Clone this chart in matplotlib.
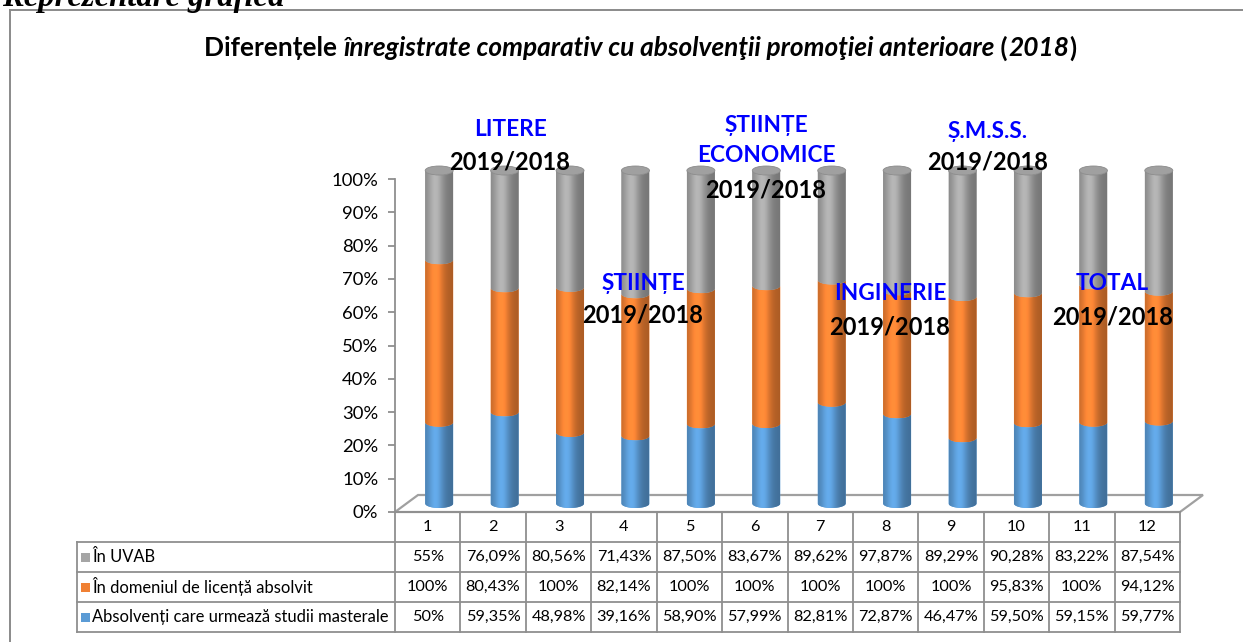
import numpy as np
import matplotlib
matplotlib.use("Agg")
import matplotlib.pyplot as plt
from matplotlib.path import Path
from matplotlib.patches import PathPatch, Ellipse, Polygon, Rectangle
import matplotlib.transforms as mtransforms

# ---------------- data ----------------
columns = ["1", "2", "3", "4", "5", "6", "7", "8", "9", "10", "11", "12"]
series_names = ["În UVAB", "În domeniul de licență absolvit",
                "Absolvenți care urmează studii masterale"]
uvab = [55, 76.09, 80.56, 71.43, 87.50, 83.67, 89.62, 97.87, 89.29, 90.28, 83.22, 87.54]
domeniu = [100, 80.43, 100, 82.14, 100, 100, 100, 100, 100, 95.83, 100, 94.12]
masterale = [50, 59.35, 48.98, 39.16, 58.90, 57.99, 82.81, 72.87, 46.47, 59.50, 59.15, 59.77]
y_ticks = [0, 10, 20, 30, 40, 50, 60, 70, 80, 90, 100]
title_parts = [("Diferențele ", "normal"),
               ("înregistrate comparativ cu absolvenţii promoţiei anterioare", "italic"),
               (" (", "normal"), ("2018", "italic"), (")", "normal")]
group_labels = [(["LITERE"], "2019/2018"), (["ȘTIINȚE"], "2019/2018"),
                (["ȘTIINȚE", "ECONOMICE"], "2019/2018"), (["INGINERIE"], "2019/2018"),
                (["Ș.M.S.S."], "2019/2018"), (["TOTAL"], "2019/2018")]

# ---------------- style ----------------
FONT = ["Lato", "DejaVu Sans"]
plt.rcParams["font.family"] = FONT
C_BLUE = np.array([0x5B, 0x9B, 0xD5]) / 255
C_ORANGE = np.array([0xF0, 0x80, 0x33]) / 255
C_GRAY = np.array([0xA5, 0xA5, 0xA5]) / 255
GRID = "#8f8f8f"

W, H = 1243, 642
fig = plt.figure(figsize=(W / 100, H / 100), dpi=100)

# layout in pixels
X0, X1 = 395, 1180          # table / plot horizontal extent
Y0, Y100 = 512, 179         # 0% and 100% pixel rows
n = len(columns)
colw = (X1 - X0) / n
ypx = (Y0 - Y100)

ax = fig.add_axes([X0 / W, 1 - Y0 / H, (X1 - X0) / W, ypx / H])
ax.set_xlim(0, n)
ax.set_ylim(0, 1)
for s in ["top", "right", "bottom"]:
    ax.spines[s].set_visible(False)
ax.spines["left"].set_color(GRID)
ax.spines["left"].set_linewidth(1.3)
ax.set_xticks([])
ax.set_yticks([t / 100 for t in y_ticks])
ax.set_yticklabels([f"{t}%" for t in y_ticks], fontsize=13.3)
ax.tick_params(axis="y", direction="out", length=5, color=GRID, width=1.3, pad=7)
ax.patch.set_visible(False)

def dx(px):
    return px / colw

def dy(px):
    return px / ypx

# floor (3D depth 23px x 17px)
DEPX, DEPY = 23, 17
floor = Polygon([(0, 0), (n, 0), (n + dx(DEPX), dy(DEPY)), (dx(DEPX), dy(DEPY))],
                closed=True, facecolor="white", edgecolor="#a0a0a0", lw=1.6,
                zorder=1, clip_on=False)
ax.add_patch(floor)

# cylinders drawn at middle depth
tr = mtransforms.offset_copy(ax.transData, fig=fig, x=DEPX / 2, y=DEPY / 2, units="dots")
hw = dx(28) / 2
eh = dy(4.5)

def shade(base, m=64):
    u = np.linspace(0, 1, m)
    f = 0.80 + 0.34 * np.exp(-((u - 0.38) / 0.28) ** 2) - 0.08 * u
    rgb = np.clip(base[None, :] * f[:, None], 0, 1)
    return rgb[None, :, :]

def segment(xc, y0, y1, base, z):
    t = np.linspace(0, np.pi, 30)
    verts = [(xc - hw, y1), (xc - hw, y0)]
    verts += [(xc - hw * np.cos(a), y0 - eh * np.sin(a)) for a in t]
    verts += [(xc + hw, y1)]
    verts += [(xc + hw * np.cos(a), y1 - eh * np.sin(a)) for a in t]
    codes = [Path.MOVETO] + [Path.LINETO] * (len(verts) - 1)
    verts.append(verts[0]); codes.append(Path.CLOSEPOLY)
    p = PathPatch(Path(verts, codes), facecolor=base, edgecolor="none",
                  transform=tr, zorder=z, clip_on=False)
    ax.add_patch(p)
    im = ax.imshow(shade(base), extent=(xc - hw, xc + hw, y0 - eh, y1),
                   origin="lower", aspect="auto", interpolation="bilinear",
                   transform=tr, zorder=z + 0.01)
    im.set_clip_path(p)
    im.set_clip_box(fig.bbox)

tot = np.array(uvab) + np.array(domeniu) + np.array(masterale)
stack = [(np.array(masterale) / tot, C_BLUE),
         (np.array(domeniu) / tot, C_ORANGE),
         (np.array(uvab) / tot, C_GRAY)]
for i in range(n):
    xc = i + 0.5
    b = 0.0
    z = 3 + i * 0.1
    for frac, col in stack:
        segment(xc, b, b + frac[i], col, z)
        b += frac[i]
    cap = Ellipse((xc, b), 2 * hw, 2 * eh, facecolor="#a0a0a0",
                  edgecolor="#8a8a8a", lw=0.6, transform=tr, zorder=z + 0.05,
                  clip_on=False)
    ax.add_patch(cap)

ax.set_xlim(0, n)
ax.set_ylim(0, 1)

# ---------------- data table ----------------
rowh = dy(30)
LBL0 = dx(77 - X0)
lk = dict(color=GRID, lw=1.3, clip_on=False, zorder=2)
ax.plot([0, n], [0, 0], **lk)
for j in range(n + 1):
    ax.plot([j, j], [0, -4 * rowh], **lk)
ax.plot([LBL0, n], [-rowh, -rowh], **lk)
for r in range(2, 5):
    ax.plot([LBL0, n], [-r * rowh, -r * rowh], **lk)
ax.plot([LBL0, LBL0], [-rowh, -4 * rowh], **lk)

def fmt(v):
    if abs(v - round(v)) < 1e-9:
        return f"{int(round(v))}%"
    return f"{v:.2f}".replace(".", ",") + "%"

TFS = 11.7
for j, c in enumerate(columns):
    ax.text(j + 0.5, -0.5 * rowh, c, ha="center", va="center", fontsize=TFS,
            clip_on=False)
rows = [(series_names[0], uvab, C_GRAY), (series_names[1], domeniu, C_ORANGE),
        (series_names[2], masterale, C_BLUE)]
for r, (name, vals, col) in enumerate(rows):
    yc = -(r + 1.5) * rowh
    ax.add_patch(Rectangle((dx(81 - X0), yc - dy(4.5)), dx(9), dy(9), facecolor=col,
                           edgecolor="none", clip_on=False))
    ax.text(dx(92 - X0), yc, name, ha="left", va="center", fontsize=TFS + 0.2,
            clip_on=False)
    for j, v in enumerate(vals):
        ax.text(j + 0.5, yc, fmt(v), ha="center", va="center", fontsize=TFS,
                clip_on=False)

# ---------------- frame & headings ----------------
def fx(px):
    return px / W

def fy(py):
    return 1 - py / H

fig.add_artist(plt.Line2D([fx(10), fx(10)], [fy(9.5), fy(H + 5)], color="#8a8a8a", lw=1.4))
fig.add_artist(plt.Line2D([fx(10), fx(W + 5)], [fy(9.5), fy(9.5)], color="#8a8a8a", lw=1.4))
fig.text(fx(2), fy(6), "Reprezentare grafică", family=["Liberation Serif"],
         fontsize=23.5, fontweight="bold", style="italic", va="baseline", ha="left")

# title with mixed styles
renderer = fig.canvas.get_renderer()
TITLE_FS = 18.9
pieces = []
for txt, st in title_parts:
    t = fig.text(0, fy(48), txt, fontsize=TITLE_FS, fontweight="bold", style=st,
                 va="center", ha="left")
    pieces.append(t)
widths = [p.get_window_extent(renderer).width for p in pieces]
xstart = 640 - sum(widths) / 2
for p, w in zip(pieces, widths):
    p.set_x(fx(xstart))
    xstart += w

# group labels
label_pos = [((510, 130), (510, 162)), ((643, 283), (643, 315)),
             ((766, 125), (766, 190)), ((890, 293), (890, 327)),
             ((988, 132), (988, 162)), ((1112, 283), (1113, 317))]
for (names, yr), (p1, p2) in zip(group_labels, label_pos):
    for k, nm in enumerate(names):
        fig.text(fx(p1[0]), fy(p1[1] + 30 * k), nm, color="#0000ff", fontsize=16.3,
                 fontweight="bold", ha="center", va="center", zorder=20)
    fig.text(fx(p2[0]), fy(p2[1]), yr, color="black", fontsize=17,
             fontweight="bold", ha="center", va="center", zorder=20)

fig.savefig("out.png", dpi=100)
